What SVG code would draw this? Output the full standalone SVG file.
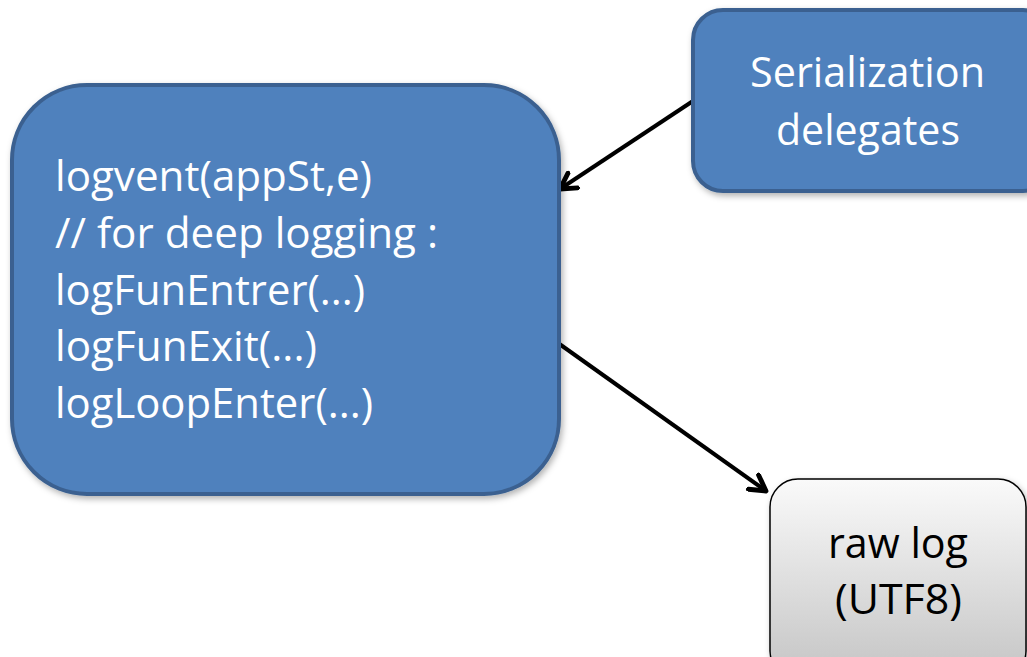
<svg xmlns="http://www.w3.org/2000/svg" width="1027" height="657" viewBox="0 0 1027 657">
<style>
.blue{fill:#4f81bd;stroke:#3b6190;stroke-width:4}
.grey{fill:url(#g);stroke:#000;stroke-width:1.5}
.t{font-family:"Open Sans","Noto Sans",sans-serif;font-size:42px}
.w{fill:#fff}
.k{fill:#000}
.c{stroke:#000;stroke-width:4;fill:none;marker-end:url(#a)}
</style>
<defs>
<linearGradient id="g" x1="0" y1="0" x2="0" y2="1"><stop offset="0" stop-color="#fafafa"/><stop offset="1" stop-color="#c4c4c4"/></linearGradient>
<marker id="a" viewBox="0 0 10 10" refX="8" refY="5" markerWidth="5.5" markerHeight="5.5" orient="auto" markerUnits="strokeWidth"><path d="M1,1 L8,5 L1,9" fill="none" stroke="#000" stroke-width="2.2" stroke-linecap="round" stroke-linejoin="round"/></marker>
<filter id="s" x="-10%" y="-10%" width="130%" height="130%"><feDropShadow dx="2" dy="3" stdDeviation="3" flood-opacity="0.3"/></filter>
</defs>
<g id="connectors">
<line class="c" x1="693" y1="101" x2="560" y2="189"/>
<line class="c" x1="558" y1="343" x2="766" y2="491"/>
</g>
<g id="main">
<rect class="blue" x="12" y="85" width="547" height="409" rx="75" filter="url(#s)"/>
<text class="t w" x="55" y="191" textLength="317" lengthAdjust="spacingAndGlyphs">logvent(appSt,e)</text>
<text class="t w" x="55" y="248" textLength="383" lengthAdjust="spacingAndGlyphs">// for deep logging :</text>
<text class="t w" x="55" y="305" textLength="310" lengthAdjust="spacingAndGlyphs">logFunEntrer(...)</text>
<text class="t w" x="55" y="361" textLength="262" lengthAdjust="spacingAndGlyphs">logFunExit(...)</text>
<text class="t w" x="55" y="418" textLength="318" lengthAdjust="spacingAndGlyphs">logLoopEnter(...)</text>
</g>
<g id="serialization">
<rect class="blue" x="693" y="10" width="360" height="181" rx="30" filter="url(#s)"/>
<text class="t w" x="750" y="87" textLength="235" lengthAdjust="spacingAndGlyphs">Serialization</text>
<text class="t w" x="776" y="145" textLength="184" lengthAdjust="spacingAndGlyphs">delegates</text>
</g>
<g id="rawlog">
<rect class="grey" x="770" y="479" width="256" height="200" rx="28" filter="url(#s)"/>
<text class="t k" x="828" y="558" textLength="140" lengthAdjust="spacingAndGlyphs">raw log</text>
<text class="t k" x="835" y="614" textLength="127" lengthAdjust="spacingAndGlyphs">(UTF8)</text>
</g>
</svg>
